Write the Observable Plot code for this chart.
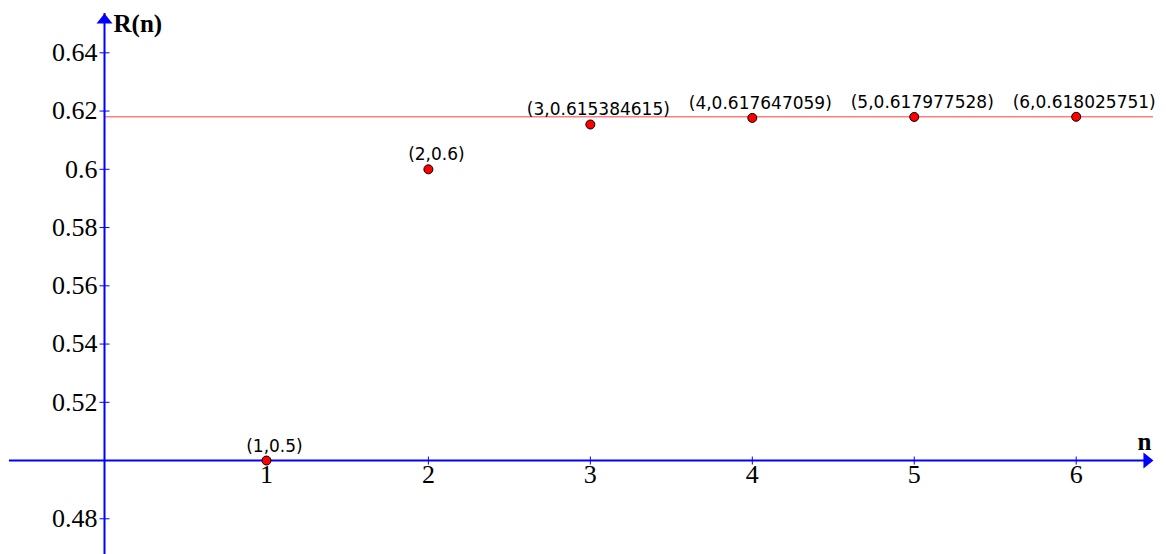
<!DOCTYPE html>
<html>
<head>
<meta charset="utf-8">
<script src="https://cdn.jsdelivr.net/npm/d3@7"></script>
<script src="https://cdn.jsdelivr.net/npm/@observablehq/plot@0.6"></script>
<style>
  html, body { margin: 0; padding: 0; background: #fff; }
  svg { display: block; }
</style>
</head>
<body>
<div id="chart"></div>
<script>
// Data
const nValues = [1, 2, 3, 4, 5, 6];
const rValues = [0.5, 0.6, 0.615384615, 0.617647059, 0.617977528, 0.618025751];
const pointLabels = ["(1,0.5)", "(2,0.6)", "(3,0.615384615)", "(4,0.617647059)", "(5,0.617977528)", "(6,0.618025751)"];
const limitValue = [0.618034];
const xTicks = [1, 2, 3, 4, 5, 6];
const yTicks = [0.48, 0.52, 0.54, 0.56, 0.58, 0.6, 0.62, 0.64];
const yTickLabels = ["0.48", "0.52", "0.54", "0.56", "0.58", "0.6", "0.62", "0.64"];
const xDomain = [-0.6422, 6.5576];
const yDomain = [0.46774, 0.65796];
const xAxisRange = [-0.587, 6.477];
const yAxisRange = [0.46774, 0.6535];
const axisOrigin = {x: 0, y: 0.5};

const points = nValues.map((n, i) => ({n, r: rValues[i], label: pointLabels[i]}));
const yTickData = yTicks.map((v, i) => ({v, label: yTickLabels[i]}));

const blue = "#0000ff";
const serif = "Liberation Serif, Times New Roman, serif";

const hTick = {draw(ctx) { ctx.moveTo(-5, 0); ctx.lineTo(5, 0); }};
const vTick = {draw(ctx) { ctx.moveTo(0, -4); ctx.lineTo(0, 4); }};
const arrowHead = {draw(ctx) { ctx.moveTo(0, 0); ctx.lineTo(-8, 10); ctx.lineTo(8, 10); ctx.closePath(); }};

const chart = Plot.plot({
  width: 1166,
  height: 554,
  margin: 0,
  x: {domain: xDomain, axis: null},
  y: {domain: yDomain, axis: null},
  style: {background: "#fff"},
  marks: [
    // limit line
    Plot.ruleY(limitValue, {x1: axisOrigin.x, x2: xAxisRange[1], stroke: "#ff7f7f", strokeWidth: 1.5}),
    // axes
    Plot.ruleY([axisOrigin.y], {x1: xAxisRange[0], x2: xAxisRange[1], stroke: blue, strokeWidth: 2, insetRight: 6}),
    Plot.ruleX([axisOrigin.x], {y1: yAxisRange[0], y2: yAxisRange[1], stroke: blue, strokeWidth: 2, insetTop: 6}),
    Plot.dot([{x: xAxisRange[1], y: axisOrigin.y}], {x: "x", y: "y", symbol: arrowHead, rotate: 90, fill: blue, stroke: "none"}),
    Plot.dot([{x: axisOrigin.x, y: yAxisRange[1]}], {x: "x", y: "y", symbol: arrowHead, rotate: 0, fill: blue, stroke: "none"}),
    // tick marks
    Plot.dot(yTicks, {x: () => axisOrigin.x, y: d => d, symbol: hTick, stroke: blue, strokeWidth: 1, fill: "none"}),
    Plot.dot(xTicks, {x: d => d, y: () => axisOrigin.y, symbol: vTick, stroke: blue, strokeWidth: 1, fill: "none"}),
    // tick labels
    Plot.text(yTickData, {x: () => axisOrigin.x, y: "v", text: "label", textAnchor: "end", dx: -7, fontSize: 26, fontFamily: serif, fill: "#000"}),
    Plot.text(xTicks, {x: d => d, y: () => axisOrigin.y, text: d => String(d), lineAnchor: "top", dy: 4, fontSize: 26, fontFamily: serif, fill: "#000"}),
    // axis titles
    Plot.text(["R(n)"], {x: () => axisOrigin.x, y: () => yAxisRange[1], text: d => d, textAnchor: "start", lineAnchor: "bottom", dx: 9, dy: 19, fontSize: 25, fontWeight: "bold", fontFamily: serif, fill: "#000"}),
    Plot.text(["n"], {x: () => xAxisRange[1], y: () => axisOrigin.y, text: d => d, textAnchor: "middle", lineAnchor: "bottom", dx: -9, dy: -11, fontSize: 25, fontWeight: "bold", fontFamily: serif, fill: "#000"}),
    // data points
    Plot.dot(points, {x: "n", y: "r", r: 4.5, fill: "#ff0000", stroke: "#000", strokeWidth: 1}),
    Plot.text(points, {x: "n", y: "r", text: "label", textAnchor: "middle", lineAnchor: "bottom", dx: 8, dy: -9, fontSize: 17, fontFamily: "DejaVu Sans", fill: "#000"})
  ]
});
document.getElementById("chart").appendChild(chart);
</script>
</body>
</html>
